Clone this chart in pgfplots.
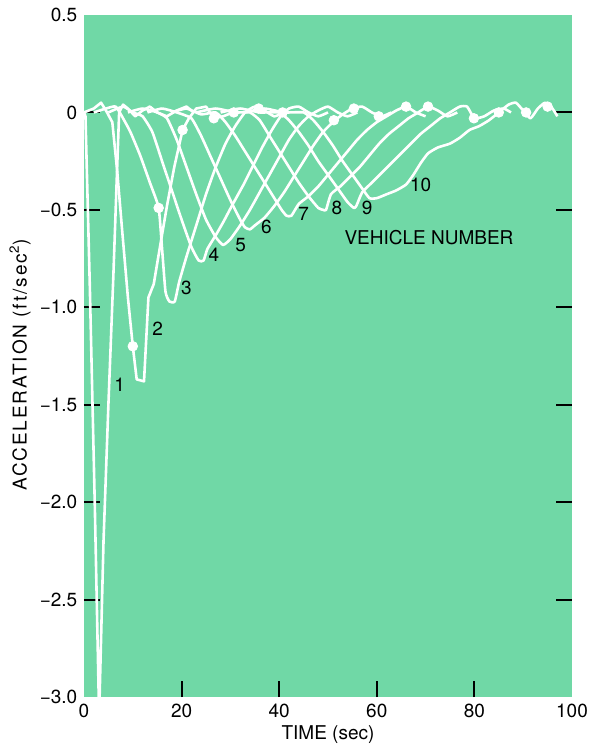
\documentclass[border=0pt]{standalone}
\usepackage{fontspec}
\setmainfont{TeX Gyre Heros}
\usepackage{pgfplots}
\pgfplotsset{compat=1.18}
\definecolor{bggreen}{RGB}{112,216,166}

\begin{document}
\fontsize{9.5}{11}\selectfont
\begin{tikzpicture}
\useasboundingbox (-42pt,-24.5pt) rectangle (254.5pt,348.5pt);
\begin{axis}[
  at={(0pt,0pt)}, anchor=south west,
  scale only axis, width=244pt, height=341pt,
  xmin=0, xmax=100, ymin=-3, ymax=0.5,
  axis background/.style={fill=bggreen},
  axis line style={draw=none},
  tick align=inside,
  major tick length=8pt,
  every tick/.style={black, line width=1pt},
  xtick pos=bottom, ytick pos=both, yticklabel pos=left,
  xtick={20,40,60,80}, xticklabels={20,40,60,80},
  extra x ticks={0,100}, extra x tick labels={0,100},
  extra x tick style={major tick length=0pt},
  ytick={-2.5,-2,-1.5,-1,-0.5,0},
  yticklabels={−2.5,−2.0,−1.5,−1.0,−0.5,0},
  extra y ticks={-3,0.5}, extra y tick labels={−3.0,0.5},
  extra y tick style={major tick length=0pt},
  xlabel={TIME (sec)},
  ylabel={{\addfontfeature{LetterSpace=10}ACCELERATION (ft/sec\textsuperscript{2})}},
  xlabel style={at={(axis description cs:0.5,0)}, anchor=center, yshift=-19pt},
  ylabel style={at={(axis description cs:-0.131,0.487)}, anchor=center},
  clip=true,
]
% vehicle 1
\addplot[white, line width=1.3pt, line join=round] coordinates {
(0,0.0) (0.3,-0.02) (1.2,-0.9) (2.2,-2.0) (3.1,-3.1) (4.0,-2.2) (5.0,-1.5)
(6.0,-0.85) (6.7,-0.35) (7.2,0.0) (8.0,0.04) (9.0,0.02) (10.5,-0.02) (12,0.01)
(13.5,0.03) (15,0.0) (17,-0.02) (19,0.01) (21,0.03) (22.5,0.0)};
% vehicle 2
\addplot[white, line width=1.3pt, line join=round] coordinates {
(0,0.0) (2,0.02) (3.5,0.05) (4.5,0.01) (5.8,-0.05) (6.8,-0.3) (7.8,-0.6)
(9.0,-0.95) (10.0,-1.2) (10.8,-1.37) (12.3,-1.38) (13.2,-0.95) (14.3,-0.88)
(15.5,-0.7) (17,-0.48) (18.5,-0.28) (20.2,-0.09) (21.5,-0.03) (23,0.02)
(25,0.03) (26.6,-0.03) (28.5,-0.02) (30.5,0.0)};
% vehicle 3
\addplot[white, line width=1.3pt, line join=round, smooth, tension=0.3] coordinates {
(2,0.0) (4.5,0.02) (6.5,0.03) (8.0,-0.03) (9.5,-0.1) (11.5,-0.22) (13.5,-0.36)
(15.3,-0.49) (16.0,-0.7) (16.7,-0.92) (17.5,-0.97) (18.6,-0.97) (19.5,-0.87)
(21,-0.74) (23,-0.58) (25,-0.42) (27,-0.28) (29,-0.16) (31,-0.07) (33,0.0)
(35,0.03) (37,0.01) (39,-0.02) (41,0.0)};
% vehicle 4
\addplot[white, line width=1.3pt, line join=round, smooth, tension=0.3] coordinates {
(5,0.0) (8,0.03) (10,0.0) (12,-0.02) (14,-0.1) (16,-0.25) (18,-0.4)
(20,-0.55) (22,-0.69) (23.5,-0.76) (24.5,-0.76) (25.3,-0.70) (27,-0.63)
(28.6,-0.56) (30.5,-0.47) (32.7,-0.37) (34.5,-0.28) (36.5,-0.18) (38.5,-0.09)
(40.3,-0.02) (42,0.02) (44,0.03) (46,0.0) (48,-0.02) (50,0.0)};
% vehicle 5
\addplot[white, line width=1.3pt, line join=round, smooth, tension=0.3] coordinates {
(9,0.0) (12,0.02) (15,0.0) (17,-0.03) (19,-0.14) (21,-0.28) (23,-0.42)
(25,-0.55) (27,-0.64) (28.5,-0.68) (30,-0.65) (32,-0.58) (34,-0.5)
(36,-0.41) (38,-0.32) (40,-0.23) (42,-0.14) (44,-0.07) (46,-0.02) (48,0.01)
(50,0.03) (52,0.0) (54,-0.02) (56,0.0)};
% vehicle 6
\addplot[white, line width=1.3pt, line join=round, smooth, tension=0.3] coordinates {
(13,0.0) (16,0.02) (19,0.0) (22,-0.03) (24,-0.12) (26,-0.23) (28,-0.34)
(30,-0.45) (32,-0.55) (33,-0.59) (34,-0.6) (35,-0.58) (37,-0.54) (39,-0.48)
(41,-0.41) (43,-0.33) (45,-0.25) (47,-0.17) (49,-0.1) (51,-0.05) (53,-0.01)
(55,0.02) (57,0.03) (59,0.0) (61,-0.02) (63,0.0)};
% vehicle 7
\addplot[white, line width=1.3pt, line join=round, smooth, tension=0.3] coordinates {
(18,0.0) (21,0.02) (24,-0.01) (27,0.0) (29,-0.05) (31,-0.12) (33,-0.2)
(35,-0.28) (37,-0.36) (39,-0.44) (40.5,-0.5) (41.5,-0.53) (42.5,-0.53)
(44,-0.47) (46,-0.43) (48,-0.38) (50,-0.32) (52,-0.26) (54,-0.2) (56,-0.14)
(58,-0.09) (60,-0.05) (62,-0.02) (64,0.01) (66,0.03) (68,0.0) (70,-0.02)};
% vehicle 8
\addplot[white, line width=1.3pt, line join=round, smooth, tension=0.3] coordinates {
(23,0.0) (27,0.02) (31,0.0) (34,0.0) (36,-0.04) (38,-0.12) (40,-0.2)
(42,-0.28) (44,-0.36) (46,-0.43) (48,-0.49) (49,-0.5) (49.6,-0.5)
(50.6,-0.42) (52.5,-0.38) (54.5,-0.33) (56.5,-0.28) (58.5,-0.22) (60.5,-0.16)
(62.5,-0.11) (64.5,-0.07) (66.5,-0.03) (68.5,0.0) (70.5,0.03) (72.5,0.01)
(74.5,-0.02) (76.5,0.0)};
% vehicle 9
\addplot[white, line width=1.3pt, line join=round, smooth, tension=0.3] coordinates {
(28,0.0) (32,0.02) (36,0.0) (40,0.0) (42,-0.04) (44,-0.1) (46,-0.17)
(48,-0.25) (50,-0.32) (52,-0.39) (54,-0.46) (55.3,-0.49) (55.8,-0.48)
(57,-0.41) (59,-0.36) (61,-0.31) (63,-0.26) (65,-0.21) (67,-0.16) (69,-0.11)
(71,-0.07) (73,-0.03) (75,0.0) (77,0.03) (78.5,0.03) (80,-0.03) (82,-0.02)
(84,0.01) (86,0.02) (87.5,0.0)};
% vehicle 10
\addplot[white, line width=1.3pt, line join=round, smooth, tension=0.3] coordinates {
(33,0.0) (37,0.02) (41,0.0) (45,0.0) (47,-0.04) (49,-0.1) (51,-0.17)
(53,-0.25) (55,-0.32) (57,-0.39) (58.5,-0.44) (60,-0.44) (62,-0.42)
(64,-0.4) (66,-0.37) (67.5,-0.32) (69,-0.26) (70.5,-0.21) (72.5,-0.18)
(75,-0.16) (77,-0.13) (79,-0.09) (81,-0.07) (83,-0.04) (85,0.0) (87,0.04)
(88.5,0.05) (90,0.01) (91.5,-0.03) (93,0.02) (94.5,0.05) (96,0.02) (97,-0.02)};
% dots
\addplot[only marks, mark=*, mark size=2.4pt, white] coordinates {
(10.0,-1.2) (15.3,-0.49) (20.2,-0.09) (26.6,-0.03) (30.7,0.0) (35.8,0.02)
(40.7,0.0) (51.2,-0.04) (55.3,0.02) (60.4,-0.02) (66,0.03) (70.5,0.03)
(79.9,-0.03) (85,0.0) (90.6,0.0) (95,0.03)};
% labels
\node at (axis cs:7.3,-1.40) {1};
\node at (axis cs:15.1,-1.11) {2};
\node at (axis cs:21.0,-0.90) {3};
\node at (axis cs:26.6,-0.73) {4};
\node at (axis cs:32.1,-0.68) {5};
\node at (axis cs:37.4,-0.59) {6};
\node at (axis cs:45.0,-0.52) {7};
\node at (axis cs:51.8,-0.49) {8};
\node at (axis cs:58.0,-0.49) {9};
\node at (axis cs:69.0,-0.37) {10};
\node at (axis cs:70.7,-0.64) {VEHICLE NUMBER};
\end{axis}
\end{tikzpicture}
\end{document}
